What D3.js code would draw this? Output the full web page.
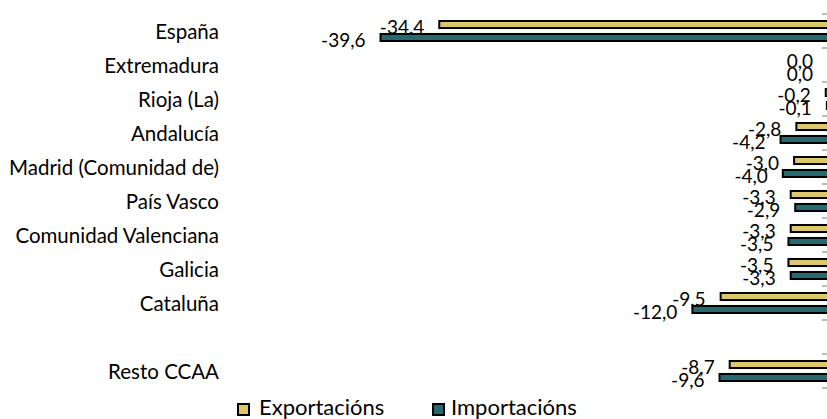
<!DOCTYPE html>
<html>
<head>
<meta charset="utf-8">
<script src="https://cdn.jsdelivr.net/npm/d3@7"></script>
<style>
  html, body { margin: 0; padding: 0; background: #fff; }
  svg { display: block; }
  text { font-family: Lato, "Open Sans", sans-serif; }
</style>
</head>
<body>
<svg id="chart" width="827" height="419"></svg>
<script>
const categories = ["España", "Extremadura", "Rioja (La)", "Andalucía", "Madrid (Comunidad de)", "País Vasco", "Comunidad Valenciana", "Galicia", "Cataluña", "", "Resto CCAA"];
const exportacions = [-34.4, 0.0, -0.2, -2.8, -3.0, -3.3, -3.3, -3.5, -9.5, null, -8.7];
const importacions = [-39.6, 0.0, -0.1, -4.2, -4.0, -2.9, -3.5, -3.3, -12.0, null, -9.6];
const seriesNames = ["Exportacións", "Importacións"];
const seriesColors = ["#DFC56B", "#276A6D"];

const svg = d3.select("#chart");

const x = d3.scaleLinear().domain([-40, 0]).range([376, 828]);
const y0 = d3.scaleBand().domain(categories).range([14, 388]).padding(0);
const y1 = d3.scaleBand().domain(seriesNames).range([0, y0.bandwidth()]).paddingInner(0.38).paddingOuter(0.5);

const fmt = v => d3.format(".1f")(v).replace(".", ",").replace("−", "-");

// tick marks at category boundaries
const bounds = categories.map(c => y0(c)).concat([y0.range()[1]]);
svg.append("g").selectAll("line").data(bounds).join("line")
  .attr("x1", 822).attr("x2", 828)
  .attr("y1", d => d).attr("y2", d => d)
  .attr("stroke", "#a6a6a6").attr("stroke-width", 1.5);

// category labels
svg.append("g").selectAll("text").data(categories).join("text")
  .attr("x", 219)
  .attr("y", d => y0(d) + y0.bandwidth() / 2)
  .attr("text-anchor", "end")
  .attr("dominant-baseline", "central")
  .attr("font-size", 20.5)
  .attr("fill", "#000")
  .text(d => d);

const series = [exportacions, importacions];
series.forEach((vals, si) => {
  const g = svg.append("g");
  const data = categories.map((c, i) => ({ c, v: vals[i] })).filter(d => d.v !== null);
  g.selectAll("rect").data(data).join("rect")
    .attr("x", d => x(Math.min(0, d.v)))
    .attr("y", d => y0(d.c) + y1(seriesNames[si]) + 0.5)
    .attr("width", d => Math.abs(x(d.v) - x(0)))
    .attr("height", y1.bandwidth() - 1)
    .attr("fill", seriesColors[si])
    .attr("stroke", "#000")
    .attr("stroke-width", 2);
  g.selectAll("text").data(data).join("text")
    .attr("x", d => x(Math.min(0, d.v)) - 15)
    .attr("y", d => y0(d.c) + y1(seriesNames[si]) + y1.bandwidth() / 2 + 2)
    .attr("text-anchor", "end")
    .attr("dominant-baseline", "central")
    .attr("font-size", 19)
    .attr("fill", "#000")
    .text(d => fmt(d.v));
});

// legend
const legendX = [237, 432];
const lg = svg.append("g");
seriesNames.forEach((s, i) => {
  lg.append("rect")
    .attr("x", legendX[i] + 1).attr("y", 404)
    .attr("width", 11).attr("height", 11)
    .attr("fill", seriesColors[i]).attr("stroke", "#000").attr("stroke-width", 2);
  lg.append("text")
    .attr("x", legendX[i] + (i === 0 ? 22 : 19)).attr("y", 415)
    .attr("font-size", 22)
    .attr("fill", "#000")
    .text(s);
});
</script>
</body>
</html>
